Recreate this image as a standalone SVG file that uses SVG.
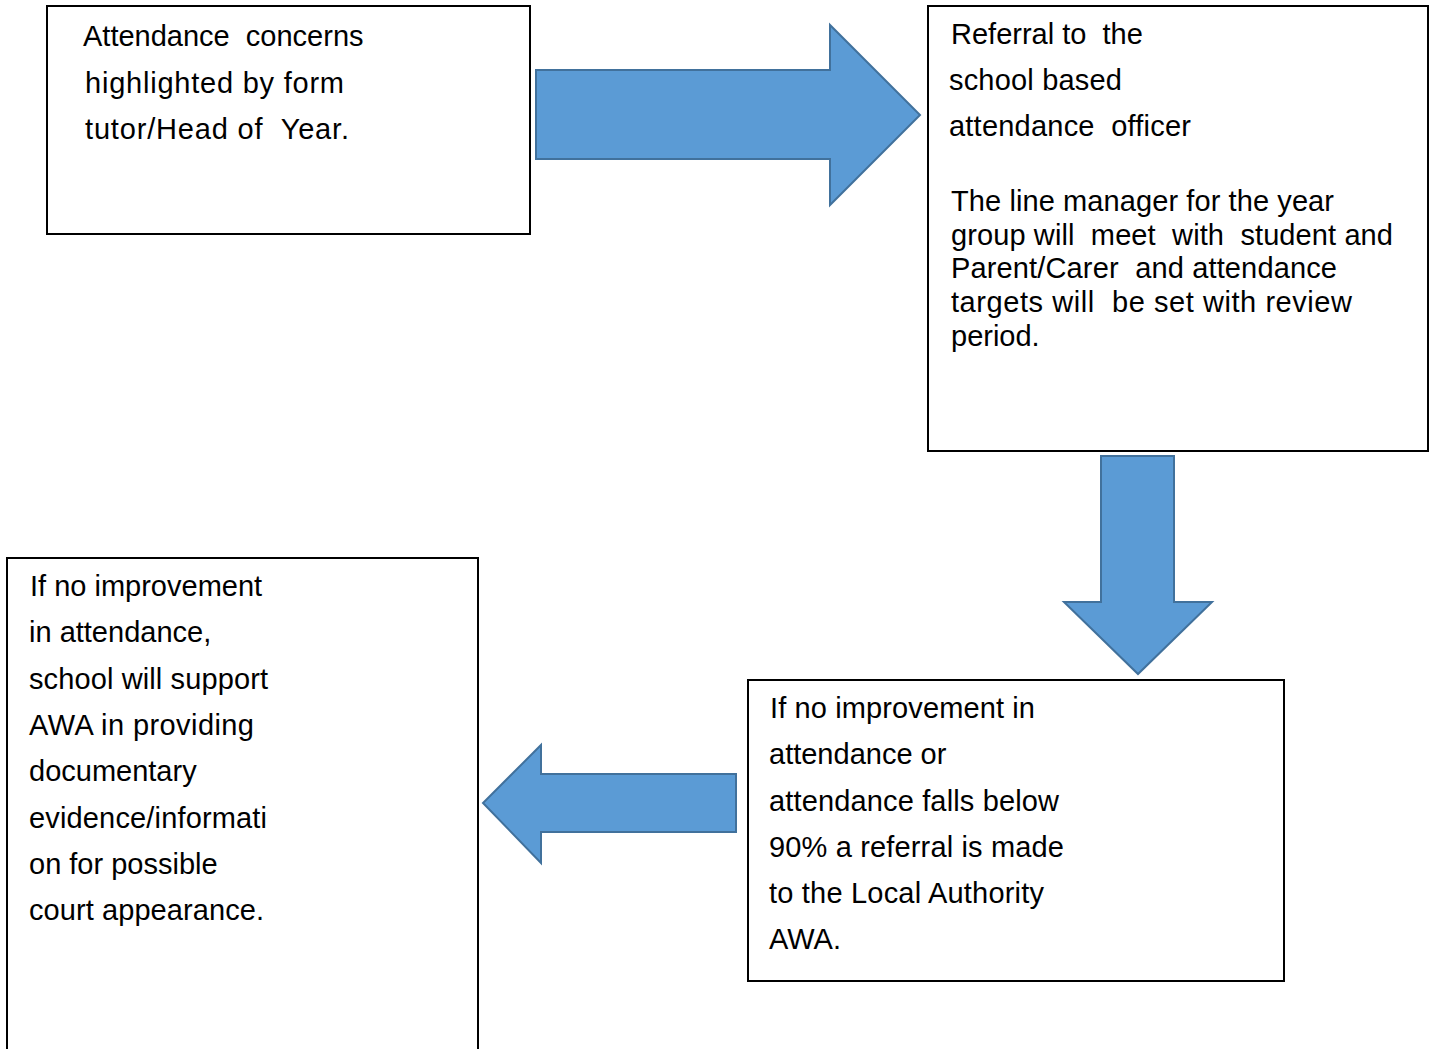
<svg xmlns="http://www.w3.org/2000/svg" width="1434" height="1049" viewBox="0 0 1434 1049">
<style>
.box{fill:#fff;stroke:#000;stroke-width:2}
.arr{fill:#5B9BD5;stroke:#41719C;stroke-width:2}
text{font-family:"Liberation Sans",Arial,sans-serif;font-size:29px;fill:#000}
</style>
<rect width="1434" height="1049" fill="#fff"/>
<g id="connectors">
<path class="arr" d="M536,70 H830 V25 L920,115 L830,205 V159 H536 Z"/>
<path class="arr" d="M1101,456 H1174 V602 H1212 L1138,674 L1064,602 H1101 Z"/>
<path class="arr" d="M736,774 H541 V745 L483,803 L541,863 V832 H736 Z"/>
</g>
<g id="node1">
<rect class="box" x="47" y="6" width="483" height="228"/>
<text xml:space="preserve"><tspan x="83" y="46">Attendance  concerns</tspan><tspan x="85" y="93" textLength="259" lengthAdjust="spacing">highlighted by form</tspan><tspan x="85" y="139" textLength="264" lengthAdjust="spacing">tutor/Head of  Year.</tspan></text>
</g>
<g id="node2">
<rect class="box" x="928" y="6" width="500" height="445"/>
<text xml:space="preserve"><tspan x="951" y="44">Referral to  the</tspan><tspan x="949" y="90" textLength="173" lengthAdjust="spacing">school based</tspan><tspan x="949" y="136" textLength="242" lengthAdjust="spacing">attendance  officer</tspan><tspan x="951" y="211" textLength="383" lengthAdjust="spacing">The line manager for the year</tspan><tspan x="951" y="245" textLength="442" lengthAdjust="spacing">group will  meet  with  student and</tspan><tspan x="951" y="278" textLength="386" lengthAdjust="spacing">Parent/Carer  and attendance</tspan><tspan x="951" y="312" textLength="401" lengthAdjust="spacing">targets will  be set with review</tspan><tspan x="951" y="346">period.</tspan></text>
</g>
<g id="node3">
<rect class="box" x="748" y="680" width="536" height="301"/>
<text xml:space="preserve"><tspan x="770" y="718" textLength="265" lengthAdjust="spacing">If no improvement in</tspan><tspan x="769" y="764">attendance or</tspan><tspan x="769" y="811" textLength="290" lengthAdjust="spacing">attendance falls below</tspan><tspan x="769" y="857" textLength="295" lengthAdjust="spacing">90% a referral is made</tspan><tspan x="769" y="903" textLength="275" lengthAdjust="spacing">to the Local Authority</tspan><tspan x="769" y="949">AWA.</tspan></text>
</g>
<g id="node4">
<rect class="box" x="7" y="558" width="471" height="520"/>
<text xml:space="preserve"><tspan x="30" y="596">If no improvement</tspan><tspan x="29" y="642">in attendance,</tspan><tspan x="29" y="689" textLength="239" lengthAdjust="spacing">school will support</tspan><tspan x="29" y="735" textLength="225" lengthAdjust="spacing">AWA in providing</tspan><tspan x="29" y="781">documentary</tspan><tspan x="29" y="828" textLength="238" lengthAdjust="spacing">evidence/informati</tspan><tspan x="29" y="874">on for possible</tspan><tspan x="29" y="920" textLength="235" lengthAdjust="spacing">court appearance.</tspan></text>
</g>
</svg>
